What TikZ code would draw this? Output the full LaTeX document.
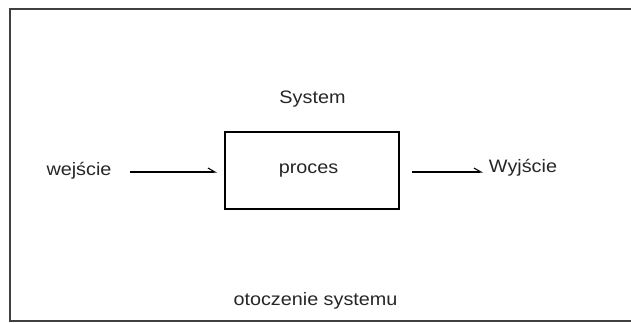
\documentclass[tikz,border=0pt]{standalone}
\usepackage{fontspec}
\setmainfont{Liberation Sans}[FakeStretch=1.1]
\usetikzlibrary{arrows.meta}
\begin{document}
\begin{tikzpicture}[x=1pt,y=1pt,
  frame/.style={draw=black!75,line width=1.3pt},
  procbox/.style={draw=black,line width=1.2pt},
  flow/.style={draw=black,line width=1.2pt,
    -{Straight Barb[harpoon,length=7pt,width=8pt,line width=1.1pt]}},
  lbl/.style={font=\fontsize{18}{20}\selectfont,text=black!85,inner sep=0pt,anchor=base}]
  \useasboundingbox (0,0) rectangle (631,323);
  % surroundings frame (open to the right)
  \draw[frame] (640,314) -- (10,314) -- (10,2) -- (640,2);
  % process block
  \draw[procbox] (225,191) rectangle (399,114);
  \node[lbl] (proc) at (308.5,149) {proces};
  \node[lbl] (sys) at (312.5,219) {System};
  \node[lbl] (env) at (315.5,17) {otoczenie systemu};
  \node[lbl] (in) at (79,147) {wejście};
  \node[lbl] (out) at (523,150) {Wyjście};
  \coordinate (ina) at (130,151);
  \coordinate (inb) at (217,151);
  \coordinate (outa) at (412,151);
  \coordinate (outb) at (483,151);
  \draw[flow] (ina) -- (inb);
  \draw[flow] (outa) -- (outb);
\end{tikzpicture}
\end{document}
